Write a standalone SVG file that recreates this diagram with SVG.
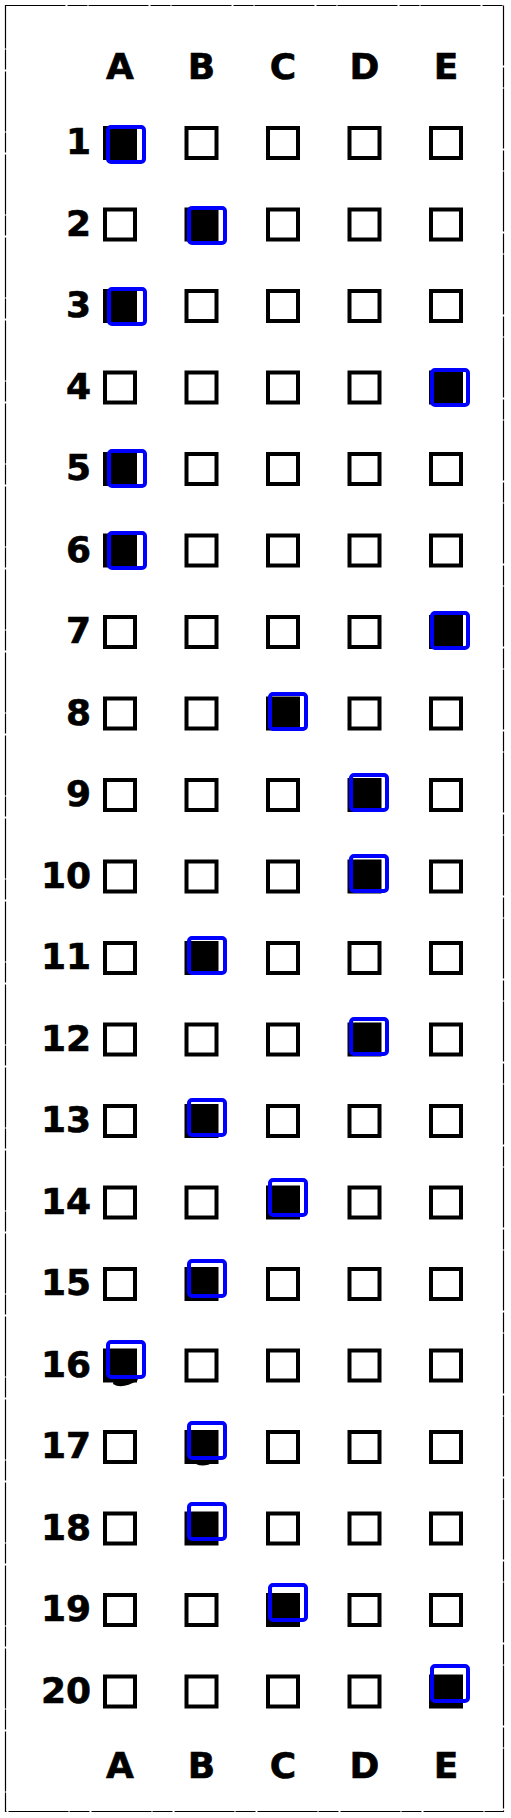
<svg xmlns="http://www.w3.org/2000/svg" xmlns:xlink="http://www.w3.org/1999/xlink" width="511" height="1818" viewBox="0 0 511 1818">
<style>
.t{font-family:"DejaVu Sans","Verdana",sans-serif;font-weight:bold;font-size:36px;fill:#000;stroke:#000;stroke-width:0.6}
.h{text-anchor:middle}
.n{text-anchor:end}
.blue{fill:none;stroke:#0000ff;stroke-width:4}
.frame{fill:none;stroke:#000;stroke-width:1.2;stroke-dasharray:60 2 20 1}
</style>
<defs>
<rect id="bx" width="30" height="30" fill="none" stroke="#000" stroke-width="4"/>
<rect id="fl" width="30" height="30" fill="#000" stroke="#000" stroke-width="4"/>
<rect id="bl" width="36" height="35" rx="3" class="blue"/>
</defs>
<rect class="frame" x="5.5" y="5.5" width="498" height="1806" fill="#fff"/>
<g id="header-top">
<text class="t h" x="120" y="79">A</text>
<text class="t h" x="201.5" y="79">B</text>
<text class="t h" x="283" y="79">C</text>
<text class="t h" x="364.5" y="79">D</text>
<text class="t h" x="446" y="79">E</text>
</g>
<g id="q1"><text class="t n" x="91" y="154">1</text>
<use xlink:href="#fl" x="105" y="128"/><use xlink:href="#bx" x="186.5" y="128"/><use xlink:href="#bx" x="268" y="128"/><use xlink:href="#bx" x="349.5" y="128"/><use xlink:href="#bx" x="431" y="128"/>
<use xlink:href="#bl" x="108" y="127"/></g>
<g id="q2"><text class="t n" x="91" y="235.5">2</text>
<use xlink:href="#bx" x="105" y="209.5"/><use xlink:href="#fl" x="186.5" y="209.5"/><use xlink:href="#bx" x="268" y="209.5"/><use xlink:href="#bx" x="349.5" y="209.5"/><use xlink:href="#bx" x="431" y="209.5"/>
<use xlink:href="#bl" x="189" y="208"/></g>
<g id="q3"><text class="t n" x="91" y="317">3</text>
<use xlink:href="#fl" x="105" y="291"/><use xlink:href="#bx" x="186.5" y="291"/><use xlink:href="#bx" x="268" y="291"/><use xlink:href="#bx" x="349.5" y="291"/><use xlink:href="#bx" x="431" y="291"/>
<use xlink:href="#bl" x="109" y="289"/></g>
<g id="q4"><text class="t n" x="91" y="398.5">4</text>
<use xlink:href="#bx" x="105" y="372.5"/><use xlink:href="#bx" x="186.5" y="372.5"/><use xlink:href="#bx" x="268" y="372.5"/><use xlink:href="#bx" x="349.5" y="372.5"/><use xlink:href="#fl" x="431" y="372.5"/>
<use xlink:href="#bl" x="432" y="370"/></g>
<g id="q5"><text class="t n" x="91" y="480">5</text>
<use xlink:href="#fl" x="105" y="454"/><use xlink:href="#bx" x="186.5" y="454"/><use xlink:href="#bx" x="268" y="454"/><use xlink:href="#bx" x="349.5" y="454"/><use xlink:href="#bx" x="431" y="454"/>
<use xlink:href="#bl" x="109" y="451"/></g>
<g id="q6"><text class="t n" x="91" y="561.5">6</text>
<use xlink:href="#fl" x="105" y="535.5"/><use xlink:href="#bx" x="186.5" y="535.5"/><use xlink:href="#bx" x="268" y="535.5"/><use xlink:href="#bx" x="349.5" y="535.5"/><use xlink:href="#bx" x="431" y="535.5"/>
<use xlink:href="#bl" x="109" y="533"/></g>
<g id="q7"><text class="t n" x="91" y="643">7</text>
<use xlink:href="#bx" x="105" y="617"/><use xlink:href="#bx" x="186.5" y="617"/><use xlink:href="#bx" x="268" y="617"/><use xlink:href="#bx" x="349.5" y="617"/><use xlink:href="#fl" x="431" y="617"/>
<use xlink:href="#bl" x="432" y="613"/></g>
<g id="q8"><text class="t n" x="91" y="724.5">8</text>
<use xlink:href="#bx" x="105" y="698.5"/><use xlink:href="#bx" x="186.5" y="698.5"/><use xlink:href="#fl" x="268" y="698.5"/><use xlink:href="#bx" x="349.5" y="698.5"/><use xlink:href="#bx" x="431" y="698.5"/>
<use xlink:href="#bl" x="270" y="694"/></g>
<g id="q9"><text class="t n" x="91" y="806">9</text>
<use xlink:href="#bx" x="105" y="780"/><use xlink:href="#bx" x="186.5" y="780"/><use xlink:href="#bx" x="268" y="780"/><use xlink:href="#fl" x="349.5" y="780"/><use xlink:href="#bx" x="431" y="780"/>
<use xlink:href="#bl" x="351" y="775"/></g>
<g id="q10"><text class="t n" x="91" y="887.5">10</text>
<use xlink:href="#bx" x="105" y="861.5"/><use xlink:href="#bx" x="186.5" y="861.5"/><use xlink:href="#bx" x="268" y="861.5"/><use xlink:href="#fl" x="349.5" y="861.5"/><use xlink:href="#bx" x="431" y="861.5"/>
<use xlink:href="#bl" x="351" y="856"/></g>
<g id="q11"><text class="t n" x="91" y="969">11</text>
<use xlink:href="#bx" x="105" y="943"/><use xlink:href="#fl" x="186.5" y="943"/><use xlink:href="#bx" x="268" y="943"/><use xlink:href="#bx" x="349.5" y="943"/><use xlink:href="#bx" x="431" y="943"/>
<use xlink:href="#bl" x="189" y="938"/></g>
<g id="q12"><text class="t n" x="91" y="1050.5">12</text>
<use xlink:href="#bx" x="105" y="1024.5"/><use xlink:href="#bx" x="186.5" y="1024.5"/><use xlink:href="#bx" x="268" y="1024.5"/><use xlink:href="#fl" x="349.5" y="1024.5"/><use xlink:href="#bx" x="431" y="1024.5"/>
<use xlink:href="#bl" x="351" y="1019"/></g>
<g id="q13"><text class="t n" x="91" y="1132">13</text>
<use xlink:href="#bx" x="105" y="1106"/><use xlink:href="#fl" x="186.5" y="1106"/><use xlink:href="#bx" x="268" y="1106"/><use xlink:href="#bx" x="349.5" y="1106"/><use xlink:href="#bx" x="431" y="1106"/>
<use xlink:href="#bl" x="189" y="1100"/></g>
<g id="q14"><text class="t n" x="91" y="1213.5">14</text>
<use xlink:href="#bx" x="105" y="1187.5"/><use xlink:href="#bx" x="186.5" y="1187.5"/><use xlink:href="#fl" x="268" y="1187.5"/><use xlink:href="#bx" x="349.5" y="1187.5"/><use xlink:href="#bx" x="431" y="1187.5"/>
<use xlink:href="#bl" x="270" y="1180"/></g>
<g id="q15"><text class="t n" x="91" y="1295">15</text>
<use xlink:href="#bx" x="105" y="1269"/><use xlink:href="#fl" x="186.5" y="1269"/><use xlink:href="#bx" x="268" y="1269"/><use xlink:href="#bx" x="349.5" y="1269"/><use xlink:href="#bx" x="431" y="1269"/>
<use xlink:href="#bl" x="189" y="1261"/></g>
<g id="q16"><text class="t n" x="91" y="1376.5">16</text>
<use xlink:href="#fl" x="105" y="1350.5"/><use xlink:href="#bx" x="186.5" y="1350.5"/><use xlink:href="#bx" x="268" y="1350.5"/><use xlink:href="#bx" x="349.5" y="1350.5"/><use xlink:href="#bx" x="431" y="1350.5"/>
<path d="M113 1384 Q122 1390 138 1380 L136 1376 Q124 1384 114 1380 Z" fill="#000"/>
<use xlink:href="#bl" x="108" y="1342"/></g>
<g id="q17"><text class="t n" x="91" y="1458">17</text>
<use xlink:href="#bx" x="105" y="1432"/><use xlink:href="#fl" x="186.5" y="1432"/><use xlink:href="#bx" x="268" y="1432"/><use xlink:href="#bx" x="349.5" y="1432"/><use xlink:href="#bx" x="431" y="1432"/>
<path d="M196 1464 Q204 1468 214 1462 L212 1459 Q204 1464 198 1461 Z" fill="#000"/>
<use xlink:href="#bl" x="189" y="1423"/></g>
<g id="q18"><text class="t n" x="91" y="1539.5">18</text>
<use xlink:href="#bx" x="105" y="1513.5"/><use xlink:href="#fl" x="186.5" y="1513.5"/><use xlink:href="#bx" x="268" y="1513.5"/><use xlink:href="#bx" x="349.5" y="1513.5"/><use xlink:href="#bx" x="431" y="1513.5"/>
<use xlink:href="#bl" x="189" y="1504"/></g>
<g id="q19"><text class="t n" x="91" y="1621">19</text>
<use xlink:href="#bx" x="105" y="1595"/><use xlink:href="#bx" x="186.5" y="1595"/><use xlink:href="#fl" x="268" y="1595"/><use xlink:href="#bx" x="349.5" y="1595"/><use xlink:href="#bx" x="431" y="1595"/>
<use xlink:href="#bl" x="270" y="1585"/></g>
<g id="q20"><text class="t n" x="91" y="1702.5">20</text>
<use xlink:href="#bx" x="105" y="1676.5"/><use xlink:href="#bx" x="186.5" y="1676.5"/><use xlink:href="#bx" x="268" y="1676.5"/><use xlink:href="#bx" x="349.5" y="1676.5"/><use xlink:href="#fl" x="431" y="1676.5"/>
<use xlink:href="#bl" x="432" y="1666"/></g>
<g id="header-bottom">
<text class="t h" x="120" y="1778">A</text>
<text class="t h" x="201.5" y="1778">B</text>
<text class="t h" x="283" y="1778">C</text>
<text class="t h" x="364.5" y="1778">D</text>
<text class="t h" x="446" y="1778">E</text>
</g>
<g id="connectors"></g>
</svg>
